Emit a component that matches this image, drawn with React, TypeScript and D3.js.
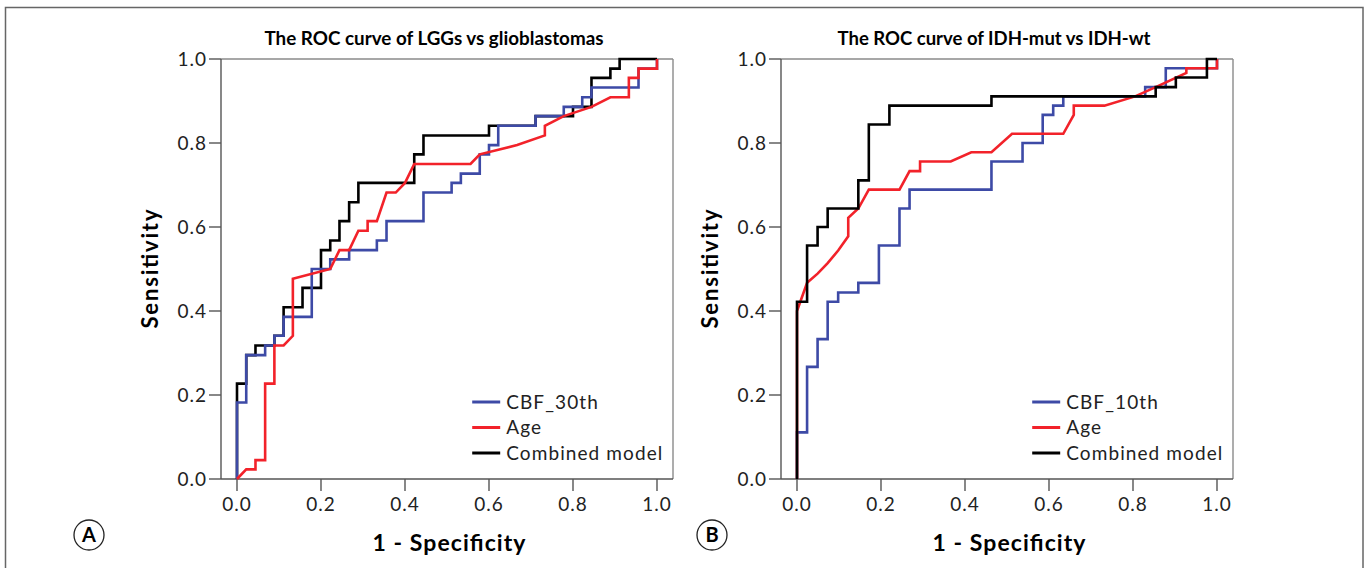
import React from "react";
import * as d3 from "d3";

type Pt = [number, number];

// Panel A: LGGs vs glioblastomas  (1 - specificity, sensitivity)
// step curves: corner points after each rise
const cbf30thA: Pt[] = [
  [0, 0], [0, 0.182], [0.022, 0.295], [0.067, 0.318], [0.089, 0.341], [0.111, 0.386],
  [0.178, 0.5], [0.222, 0.523], [0.267, 0.545], [0.333, 0.568], [0.356, 0.614],
  [0.444, 0.682], [0.511, 0.705], [0.533, 0.727], [0.578, 0.773], [0.6, 0.795],
  [0.622, 0.841], [0.711, 0.864], [0.778, 0.886], [0.822, 0.909], [0.844, 0.932],
  [0.956, 0.977], [1, 1],
];
const combinedA: Pt[] = [
  [0, 0], [0, 0.227], [0.022, 0.295], [0.044, 0.318], [0.089, 0.341], [0.111, 0.409],
  [0.156, 0.455], [0.2, 0.545], [0.222, 0.568], [0.244, 0.614], [0.267, 0.659],
  [0.289, 0.705], [0.422, 0.773], [0.444, 0.818], [0.6, 0.841], [0.711, 0.864],
  [0.8, 0.886], [0.844, 0.955], [0.889, 0.977], [0.911, 1], [1, 1],
];
// age curve has sloped pieces, so every vertex is listed
const ageA: Pt[] = [
  [0, 0], [0.022, 0.023], [0.044, 0.023], [0.044, 0.045], [0.067, 0.045], [0.067, 0.227],
  [0.089, 0.227], [0.089, 0.318], [0.111, 0.318], [0.133, 0.341], [0.133, 0.477],
  [0.222, 0.5], [0.244, 0.545], [0.267, 0.545], [0.289, 0.591], [0.311, 0.591],
  [0.311, 0.614], [0.333, 0.614], [0.356, 0.682], [0.378, 0.682], [0.4, 0.705],
  [0.422, 0.75], [0.556, 0.75], [0.578, 0.773], [0.667, 0.795], [0.733, 0.818],
  [0.733, 0.841], [0.778, 0.864], [0.844, 0.886], [0.889, 0.909], [0.933, 0.909],
  [0.933, 0.955], [0.956, 0.955], [0.956, 0.977], [1, 0.977], [1, 1],
];

// Panel B: IDH-mut vs IDH-wt
const cbf10thB: Pt[] = [
  [0, 0], [0, 0.111], [0.024, 0.267], [0.049, 0.333], [0.073, 0.422], [0.098, 0.444],
  [0.146, 0.467], [0.195, 0.556], [0.244, 0.644], [0.268, 0.689], [0.463, 0.756],
  [0.537, 0.8], [0.585, 0.867], [0.61, 0.889], [0.634, 0.911], [0.829, 0.933],
  [0.878, 0.978], [1, 1],
];
const combinedB: Pt[] = [
  [0, 0], [0, 0.422], [0.024, 0.556], [0.049, 0.6], [0.073, 0.644], [0.146, 0.711],
  [0.171, 0.844], [0.22, 0.889], [0.463, 0.911], [0.854, 0.933], [0.902, 0.956],
  [0.976, 1], [1, 1],
];
const ageB: Pt[] = [
  [0, 0], [0, 0.4], [0.024, 0.467], [0.049, 0.489], [0.073, 0.514], [0.098, 0.544],
  [0.122, 0.578], [0.122, 0.622], [0.146, 0.644], [0.171, 0.689], [0.244, 0.689],
  [0.268, 0.733], [0.293, 0.733], [0.293, 0.756], [0.366, 0.756], [0.415, 0.778],
  [0.463, 0.778], [0.512, 0.822], [0.634, 0.822], [0.659, 0.867], [0.659, 0.889],
  [0.732, 0.889], [0.805, 0.911], [0.854, 0.933], [0.927, 0.967], [0.927, 0.978],
  [1, 0.978], [1, 1],
];

const axisTicks = [0, 0.2, 0.4, 0.6, 0.8, 1.0];
const legendA = ["CBF_30th", "Age", "Combined model"];
const legendB = ["CBF_10th", "Age", "Combined model"];

const BLUE = "#3d4aa6";
const RED = "#f2222a";
const BLACK = "#000";
const FONT = "Lato, 'Open Sans', sans-serif";

type Series = { data: Pt[]; color: string; step: boolean };

type PanelProps = {
  dx: number;
  title: string;
  titleWidth: number;
  letter: string;
  letterX: number;
  legend: string[];
  series: Series[]; // drawing order
};

const Panel = ({ dx, title, titleWidth, letter, letterX, legend, series }: PanelProps) => {
  const x = d3.scaleLinear().domain([0, 1]).range([237 + dx, 657 + dx]);
  const y = d3.scaleLinear().domain([0, 1]).range([479, 59]);
  const left = x(0) - 16;
  const right = x(1) + 16;
  const top = y(1);
  const bottom = y(0);
  const fmt = d3.format(".1f");

  const stepLine = d3.line<Pt>().x((d) => x(d[0])).y((d) => y(d[1])).curve(d3.curveStepAfter);
  const polyLine = d3.line<Pt>().x((d) => x(d[0])).y((d) => y(d[1]));

  const legendColors = [BLUE, RED, BLACK];
  const legendX = x(0.56);

  return (
    <g>
      <text
        x={(left + right) / 2 - 13}
        y={45}
        textAnchor="middle"
        fontFamily={FONT}
        fontWeight="bold"
        fontSize={18}
        textLength={titleWidth}
        lengthAdjust="spacingAndGlyphs"
      >
        {title}
      </text>

      {/* frame */}
      <line x1={left} x2={right} y1={top} y2={top} stroke="#8a8a8a" strokeWidth={1.4} />
      <line x1={right} x2={right} y1={top} y2={bottom} stroke="#8a8a8a" strokeWidth={1.4} />
      <line x1={left} x2={left} y1={top} y2={bottom} stroke="#555" strokeWidth={1.4} />
      <line x1={left} x2={right} y1={bottom} y2={bottom} stroke="#555" strokeWidth={1.4} />

      {axisTicks.map((t) => (
        <g key={"y" + t}>
          <line x1={left - 12} x2={left} y1={y(t)} y2={y(t)} stroke="#555" strokeWidth={1.4} />
          <text
            x={left - 14}
            y={y(t)}
            dy="0.36em"
            textAnchor="end"
            fontFamily={FONT}
            fontSize={19}
            letterSpacing={1}
            fill="#222"
          >
            {fmt(t)}
          </text>
        </g>
      ))}
      {axisTicks.map((t) => (
        <g key={"x" + t}>
          <line x1={x(t)} x2={x(t)} y1={bottom} y2={bottom + 12} stroke="#555" strokeWidth={1.4} />
          <text
            x={x(t)}
            y={504}
            dy="0.36em"
            textAnchor="middle"
            fontFamily={FONT}
            fontSize={19}
            letterSpacing={1}
            fill="#222"
          >
            {fmt(t)}
          </text>
        </g>
      ))}

      <text
        transform={`translate(${left - 71},${(top + bottom) / 2}) rotate(-90)`}
        textAnchor="middle"
        dy="0.36em"
        fontFamily={FONT}
        fontWeight="bold"
        fontSize={22}
        textLength={119}
        lengthAdjust="spacing"
      >
        Sensitivity
      </text>
      <text
        x={x(0.5) + 2}
        y={543}
        dy="0.36em"
        textAnchor="middle"
        fontFamily={FONT}
        fontWeight="bold"
        fontSize={23}
        textLength={153}
        lengthAdjust="spacing"
      >
        1 - Specificity
      </text>

      {series.map((s, i) => (
        <path
          key={i}
          d={(s.step ? stepLine : polyLine)(s.data) || ""}
          fill="none"
          stroke={s.color}
          strokeWidth={2.6}
          strokeLinejoin="miter"
        />
      ))}

      {legend.map((name, i) => (
        <g key={name}>
          <line
            x1={legendX}
            x2={legendX + 28}
            y1={bottom - 77 + i * 25.5}
            y2={bottom - 77 + i * 25.5}
            stroke={legendColors[i]}
            strokeWidth={3}
          />
          <text
            x={legendX + 34}
            y={bottom - 77 + i * 25.5}
            dy="0.36em"
            fontFamily={FONT}
            fontSize={19}
            letterSpacing={1.1}
            fill="#222"
          >
            {name}
          </text>
        </g>
      ))}

      <circle cx={letterX} cy={535} r={15} fill="none" stroke="#222" strokeWidth={1.3} />
      <text
        x={letterX}
        y={535}
        dy="0.36em"
        textAnchor="middle"
        fontFamily={FONT}
        fontWeight="bold"
        fontSize={20}
      >
        {letter}
      </text>
    </g>
  );
};

export default function App() {
  return (
    <svg
      width={1369}
      height={568}
      style={{ position: "absolute", left: 0, top: 0, background: "#fff" }}
    >
      <rect x={5.5} y={7.5} width={1357.5} height={600} fill="#fff" stroke="#666" strokeWidth={1.5} />
      <Panel
        dx={0}
        title="The ROC curve of LGGs vs glioblastomas"
        titleWidth={339}
        letter="A"
        letterX={89}
        legend={legendA}
        series={[
          { data: combinedA, color: BLACK, step: true },
          { data: cbf30thA, color: BLUE, step: true },
          { data: ageA, color: RED, step: false },
        ]}
      />
      <Panel
        dx={560}
        title="The ROC curve of IDH-mut vs IDH-wt"
        titleWidth={313}
        letter="B"
        letterX={712}
        legend={legendB}
        series={[
          { data: cbf10thB, color: BLUE, step: true },
          { data: ageB, color: RED, step: false },
          { data: combinedB, color: BLACK, step: true },
        ]}
      />
    </svg>
  );
}
